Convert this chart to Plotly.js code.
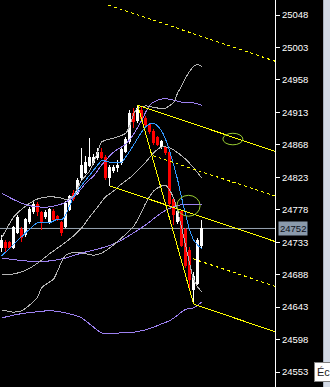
<!DOCTYPE html>
<html><head><meta charset="utf-8">
<script src="https://cdn.plot.ly/plotly-3.0.1.min.js"></script>
<style>
html,body{margin:0;padding:0;background:#000;overflow:hidden;}
#chart{position:absolute;left:0;top:0;width:330px;height:387px;}
#chart path.js-line{shape-rendering:crispEdges;}
#chart .boxlayer path{shape-rendering:crispEdges;}
#strip{position:absolute;left:323px;top:0;width:7px;height:387px;background:#d3dae6;border-left:1px solid #aab2c0;box-sizing:border-box;}
#tip{position:absolute;left:314px;top:362px;width:30px;height:20px;background:#fff;border:1px solid #808080;font:11px 'Liberation Sans',Arial,sans-serif;color:#222;padding:3px 0 0 2px;box-sizing:border-box;white-space:nowrap;}
</style></head><body>
<div id="chart"></div><div id="strip"></div><div id="tip">Éc</div>
<script>
// ---- candle data (bar index, OHLC) ----
const barIndex = [0,1,2,3,4,5,6,7,8,9,10,11,12,13,14,15,16,17,18,19,20,21,22,23,24,25,26,27,28,29,30,31,32,33,34,35,36,37,38,39,40,41,42,43,44,45,46,47,48,49,50];
const openP  = [24725,24732,24732,24726,24747,24750,24743,24761,24775,24785,24774,24768,24761,24775,24768,24760,24755,24779,24801,24801,24822,24830,24840,24843,24850,24858,24851,24823,24832,24836,24843,24859,24872,24912,24902,24916,24905,24896,24887,24878,24865,24864,24858,24792,24761,24775,24750,24722,24667,24676,24728];
const highP  = [24743,24736,24735,24755,24771,24754,24767,24782,24789,24789,24776,24778,24780,24779,24771,24762,24790,24798,24805,24822,24864,24853,24877,24855,24864,24864,24854,24840,24840,24847,24864,24879,24916,24919,24923,24920,24908,24898,24890,24880,24875,24866,24861,24796,24778,24778,24753,24726,24692,24739,24764];
const lowP   = [24719,24719,24724,24724,24744,24733,24740,24758,24772,24769,24750,24765,24758,24762,24762,24742,24753,24776,24790,24798,24819,24828,24837,24840,24847,24848,24819,24811,24829,24830,24840,24857,24869,24891,24898,24901,24893,24883,24868,24866,24862,24854,24783,24757,24758,24726,24697,24667,24647,24674,24725];
const closeP = [24736,24725,24726,24753,24767,24739,24764,24778,24785,24775,24760,24774,24778,24764,24765,24747,24786,24796,24793,24818,24839,24843,24850,24851,24858,24851,24822,24836,24836,24840,24861,24875,24912,24901,24919,24905,24896,24886,24871,24869,24872,24857,24787,24771,24775,24729,24701,24681,24685,24736,24752];
const lastPrice = 24752;

// ---- indicator lines ----
const maX = [0,3,6,9,12,14,15,16,18,20,22,24,25,27,30,31,32,33,35,36,37,38,39,40,41,42,43,44,45,46,47,48,49,50];
const maY = [24714,24730,24746,24760,24760,24765,24764,24771,24796,24812,24826,24840,24846,24844,24844,24851,24859,24868,24886,24893,24897,24898,24894,24887,24875,24859,24840,24819,24794,24771,24750,24736,24729,24724];
const bbUpX = [0,3,6,9,12,15,16,17,18,19,20,22,24,25,27,29,31,32,33,34,36,39,41,43,44,45,46,47,48,49,50];
const bbUpY = [24739,24768,24783,24793,24796,24794,24792,24794,24798,24808,24819,24832,24858,24872,24876,24879,24884,24894,24911,24919,24922,24919,24919,24927,24940,24950,24961,24970,24977,24979,24977];
const bbMidX = [0,3,6,9,12,15,18,20,22,24,26,28,30,32,34,36,38,40,42,44,46,48,50];
const bbMidY = [24688,24689,24694,24704,24717,24729,24742,24753,24768,24782,24796,24804,24814,24822,24833,24844,24857,24865,24864,24857,24848,24836,24822];
const bbLoX = [0,3,5,7,9,10,12,13,15,16,18,20,23,25,27,30,31,33,35,36,38,40,41,42,43,44,45,46,47,48,49,50];
const bbLoY = [24639,24636,24638,24646,24657,24670,24678,24682,24706,24715,24719,24718,24715,24718,24725,24739,24744,24755,24775,24787,24804,24811,24812,24805,24794,24775,24753,24728,24703,24681,24671,24664];
const envUpX = [0,3,6,9,12,15,17,19,21,23,25,28,31,33,35,37,39,41,43,45,48,50];
const envUpY = [24801,24792,24785,24782,24782,24786,24792,24801,24815,24825,24840,24858,24869,24883,24902,24923,24930,24932,24930,24927,24926,24923];
const envMidX = [0,6,12,16,20,25,29,33,36,40,42,45,50];
const envMidY = [24711,24707,24707,24711,24718,24725,24733,24746,24757,24774,24780,24785,24785];
const envLoX = [0,4,8,12,15,18,20,23,25,29,34,38,40,42,44,46,48,50];
const envLoY = [24628,24633,24636,24638,24636,24632,24628,24615,24607,24607,24609,24615,24620,24624,24632,24640,24642,24650];

// ---- pitchfork lines (end points) ----
const pfHandleX = [34, 48],     pfHandleY = [24923, 24647];
const pfTopX = [34, 68.3],      pfTopY = [24923, 24859];
const pfMedX = [27, 68.3],      pfMedY = [24811, 24734];
const pfBotX = [48, 68.3],      pfBotY = [24647, 24609];
const pfDashTopX = [26.6, 68.3], pfDashTopY = [25062, 24984];
const pfDashUpX = [37.8, 68.3], pfDashUpY = [24853, 24797];
const pfDashLoX = [47.8, 68.3], pfDashLoY = [24710, 24672];

// ---- marked ellipses ----
const ellX0 = [55.3, 43.8], ellX1 = [60.3, 49.6];
const ellY0 = [24868, 24769], ellY1 = [24884, 24798];

// ---- axis ticks ----
const yTicks = [24553,24598,24643,24688,24733,24778,24823,24868,24913,24958,25003,25048];
const yTickText = ['24553','24598','24643','24688','24733','24778','24823','24868','24913','24958','25003','25048'];

const traces = [];
traces.push({
  type:'candlestick', x:barIndex, open:openP, high:highP, low:lowP, close:closeP,
  increasing:{line:{color:'#ffffff',width:1}, fillcolor:'#ffffff'},
  decreasing:{line:{color:'#ff0000',width:1}, fillcolor:'#ff0000'},
  hoverinfo:'skip'
});
function line(x,y,color,dash,shape){
  traces.push({type:'scatter',mode:'lines',x:x,y:y,hoverinfo:'skip',
    line:{color:color,width:1,dash:dash||'solid',shape:shape||'linear',smoothing:0.6}});
}
const grey='#b4b4b4', purple='#9c80f0', yellow='#ffff00';
line(envUpX, envUpY, purple, null, 'spline');
line(envMidX, envMidY, purple, null, 'spline');
line(envLoX, envLoY, purple, null, 'spline');
line(bbUpX, bbUpY, grey, null, 'spline');
line(bbMidX, bbMidY, grey, null, 'spline');
line(bbLoX, bbLoY, grey, null, 'spline');
line(maX, maY, '#3399ff', null, 'spline');
line(pfHandleX, pfHandleY, yellow);
line(pfTopX, pfTopY, yellow);
line(pfMedX, pfMedY, yellow);
line(pfBotX, pfBotY, yellow);
line(pfDashTopX, pfDashTopY, yellow, '3px,3px');
line(pfDashUpX, pfDashUpY, yellow, '3px,3px');
line(pfDashLoX, pfDashLoY, yellow, '3px,3px');

const shapes = [{type:'line', xref:'paper', x0:0, x1:1, yref:'y', y0:lastPrice, y1:lastPrice,
  line:{color:'#98a4b2', width:1}, layer:'below'}];
for (let k=0;k<ellX0.length;k++){
  shapes.push({type:'circle', xref:'x', yref:'y', x0:ellX0[k], x1:ellX1[k], y0:ellY0[k], y1:ellY1[k],
    line:{color:'#99cc33', width:1}});
}

const layout = {
  width:330, height:387, margin:{l:0,r:55,t:0,b:0,pad:0},
  paper_bgcolor:'#000', plot_bgcolor:'#000', showlegend:false, hovermode:false,
  xaxis:{range:[-0.43,68.33], visible:false, showgrid:false, zeroline:false, rangeslider:{visible:false}, fixedrange:true},
  yaxis:{side:'right', range:[24532.2,25068.8], tickmode:'array', tickvals:yTicks, ticktext:yTickText,
    ticks:'outside', ticklen:4, tickwidth:1, tickcolor:'#ffffff', showline:true, linecolor:'#ffffff', linewidth:1,
    showgrid:false, zeroline:false, fixedrange:true,
    tickfont:{family:'Liberation Sans, Arial, sans-serif', size:9.5, color:'#ffffff'}},
  shapes:shapes,
  annotations:[{xref:'paper', x:1, xanchor:'left', xshift:3, yref:'y', y:lastPrice, yanchor:'middle',
    text:String(lastPrice), showarrow:false, bgcolor:'#8a9aab', borderpad:1,
    font:{family:'Liberation Sans, Arial, sans-serif', size:9.5, color:'#0a0f18'}}]
};
Plotly.newPlot('chart', traces, layout, {displayModeBar:false, staticPlot:true});
</script>
</body></html>
